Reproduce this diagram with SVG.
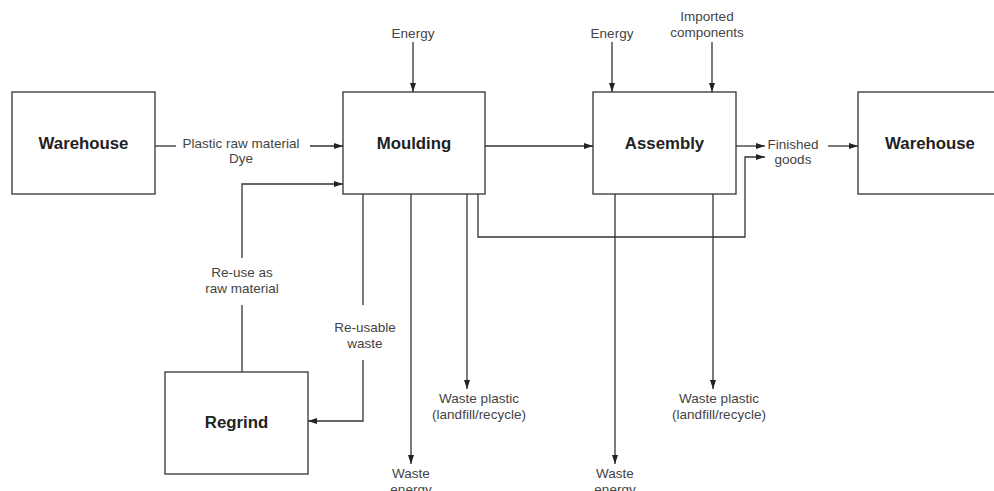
<svg xmlns="http://www.w3.org/2000/svg" width="994" height="491" viewBox="0 0 994 491">
  <style>
    .box { fill: #fff; stroke: #333; stroke-width: 1.3; }
    .title { font-family: "Liberation Sans", Arial, sans-serif; font-size: 16.8px; font-weight: bold; fill: #222; text-anchor: middle; }
    .lbl { font-family: "Liberation Sans", Arial, sans-serif; font-size: 13.5px; fill: #444; text-anchor: middle; }
    .ln { fill: none; stroke: #333; stroke-width: 1.3; }
    .arr { fill: none; stroke: #333; stroke-width: 1.3; marker-end: url(#head); }
  </style>
  <defs>
    <marker id="head" markerUnits="userSpaceOnUse" markerWidth="10" markerHeight="8" refX="9" refY="4" orient="auto">
      <path d="M0,1 L9,4 L0,7 Z" fill="#222"/>
    </marker>
  </defs>
  <rect width="994" height="491" fill="#fff"/>

  <!-- process nodes -->
  <g id="warehouse-in">
    <rect class="box" x="12" y="92" width="143" height="102"/>
    <text class="title" x="83.5" y="149">Warehouse</text>
  </g>
  <g id="moulding">
    <rect class="box" x="343" y="92" width="142" height="102"/>
    <text class="title" x="414" y="149">Moulding</text>
  </g>
  <g id="assembly">
    <rect class="box" x="593" y="92" width="143" height="102"/>
    <text class="title" x="664.5" y="149">Assembly</text>
  </g>
  <g id="warehouse-out">
    <rect class="box" x="858" y="92" width="143" height="102"/>
    <text class="title" x="930" y="149">Warehouse</text>
  </g>
  <g id="regrind">
    <rect class="box" x="165" y="372" width="143" height="102"/>
    <text class="title" x="236.5" y="428">Regrind</text>
  </g>

  <!-- flow labels -->
  <g id="labels">
    <text class="lbl" x="241" y="148">Plastic raw material</text>
    <text class="lbl" x="241" y="163">Dye</text>
    <text class="lbl" x="413" y="38">Energy</text>
    <text class="lbl" x="612" y="38">Energy</text>
    <text class="lbl" x="707" y="21">Imported</text>
    <text class="lbl" x="707" y="37">components</text>
    <text class="lbl" x="793" y="149">Finished</text>
    <text class="lbl" x="793" y="164">goods</text>
    <text class="lbl" x="242" y="277">Re-use as</text>
    <text class="lbl" x="242" y="293">raw material</text>
    <text class="lbl" x="365" y="332">Re-usable</text>
    <text class="lbl" x="365" y="348">waste</text>
    <text class="lbl" x="479" y="403">Waste plastic</text>
    <text class="lbl" x="479" y="419">(landfill/recycle)</text>
    <text class="lbl" x="719" y="403">Waste plastic</text>
    <text class="lbl" x="719" y="419">(landfill/recycle)</text>
    <text class="lbl" x="411" y="478">Waste</text>
    <text class="lbl" x="411" y="494">energy</text>
    <text class="lbl" x="615" y="478">Waste</text>
    <text class="lbl" x="615" y="494">energy</text>
  </g>

  <!-- connectors -->
  <g id="connectors">
    <!-- raw material feed -->
    <path class="ln" d="M155,146 H176"/>
    <path class="arr" d="M310,146 H343"/>
    <!-- energy inputs -->
    <path class="arr" d="M413,42 V92"/>
    <path class="arr" d="M612,42 V92"/>
    <path class="arr" d="M712,42 V92"/>
    <!-- moulding to assembly -->
    <path class="arr" d="M485,146 H593"/>
    <!-- assembly to finished goods to warehouse -->
    <path class="arr" d="M736,146 H765"/>
    <path class="arr" d="M828,146 H858"/>
    <!-- moulded parts bypassing assembly -->
    <path class="arr" d="M478,194 V237 H745 V157 H765"/>
    <!-- regrind loop -->
    <path class="ln" d="M242,372 V305"/>
    <path class="arr" d="M242,258 V184 H343"/>
    <path class="ln" d="M363,194 V305"/>
    <path class="arr" d="M363,360 V421 H308"/>
    <!-- waste outputs -->
    <path class="arr" d="M411,194 V464"/>
    <path class="arr" d="M467,194 V389"/>
    <path class="arr" d="M615,194 V464"/>
    <path class="arr" d="M713,194 V389"/>
  </g>
</svg>
